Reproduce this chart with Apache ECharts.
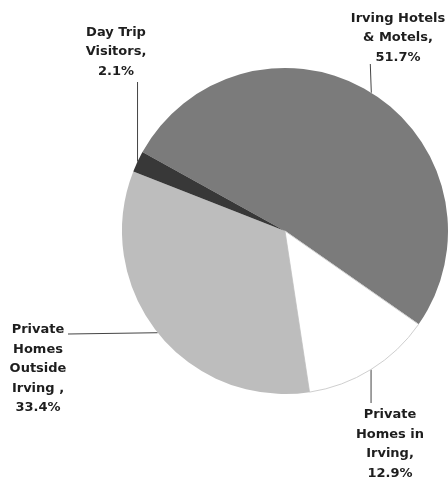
<!DOCTYPE html>
<html>
<head>
<meta charset="utf-8">
<script src="https://cdn.jsdelivr.net/npm/echarts@6/dist/echarts.min.js"></script>
<style>
  html, body { margin: 0; padding: 0; background: #fff; }
  #chart { width: 448px; height: 483px; }
</style>
</head>
<body>
<div id="chart"></div>
<script>
// Visitor lodging share (percent)
const categories = [
  'Irving Hotels\n& Motels,',
  'Private\nHomes in\nIrving,',
  'Private\nHomes\nOutside\nIrving ,',
  'Day Trip\nVisitors,'
];
const shares = [51.7, 12.9, 33.4, 2.1];
const sliceColors = ['#7b7b7b', '#ffffff', '#bdbdbd', '#383838'];

// Where each label block sits and where its leader line ends
const labelSpots = [
  { x: 398, y: 38,  lineEnd: (p) => [p[0] - 1, 64] },
  { x: 390, y: 444, lineEnd: (p) => [p[0], 403] },
  { x: 38,  y: 369, lineEnd: (p) => [68, 334] },
  { x: 116, y: 52,  lineEnd: (p) => [p[0], 82] }
];

const chart = echarts.init(document.getElementById('chart'), null, { renderer: 'canvas' });

chart.setOption({
  animation: false,
  backgroundColor: '#ffffff',
  series: [{
    type: 'pie',
    center: [285, 231],
    radius: 163,
    startAngle: 151,
    clockwise: true,
    avoidLabelOverlap: false,
    data: categories.map((name, i) => ({
      name: name,
      value: shares[i],
      itemStyle: {
        color: sliceColors[i],
        borderColor: i === 1 ? '#cfcfcf' : sliceColors[i],
        borderWidth: i === 1 ? 1 : 0
      }
    })),
    label: {
      show: true,
      position: 'outside',
      formatter: (p) => p.name + '\n' + p.value.toFixed(1) + '%',
      fontFamily: '"DejaVu Sans", sans-serif',
      fontWeight: 'bold',
      fontSize: 13,
      lineHeight: 19.5,
      color: '#1e1e1e',
      align: 'center'
    },
    labelLine: {
      show: true,
      length: 10,
      length2: 10,
      lineStyle: { color: '#444', width: 1 }
    },
    labelLayout: (params) => {
      const spot = labelSpots[params.dataIndex];
      const pts = params.labelLinePoints;
      const out = { x: spot.x, y: spot.y, align: 'center', verticalAlign: 'middle' };
      if (pts && pts.length) {
        out.labelLinePoints = [pts[0], spot.lineEnd(pts[0]), spot.lineEnd(pts[0])];
      }
      return out;
    },
    emphasis: { disabled: true }
  }]
});
</script>
</body>
</html>
